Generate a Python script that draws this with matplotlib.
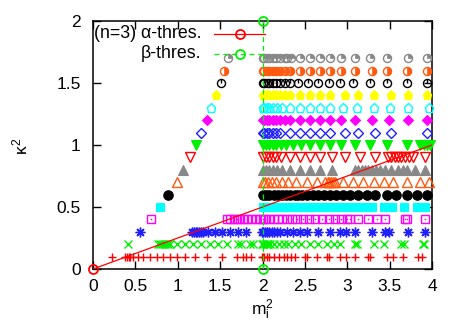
import matplotlib
matplotlib.use('Agg')
import matplotlib.pyplot as plt
from matplotlib.path import Path

plt.rcParams['font.family'] = ['Liberation Sans', 'DejaVu Sans']
plt.rcParams['mathtext.fontset'] = 'custom'
plt.rcParams['mathtext.rm'] = 'Liberation Sans'
plt.rcParams['mathtext.it'] = 'Liberation Sans'
plt.rcParams['font.size'] = 12

# ---------------- data ----------------
kappa_levels = [0.1, 0.2, 0.3, 0.4, 0.5, 0.6, 0.7, 0.8, 0.9, 1.0,
                1.1, 1.2, 1.3, 1.4, 1.5, 1.6, 1.7]

m2_k01 = [0.22, 0.38, 0.40, 0.42, 0.44, 0.47, 0.53, 0.59, 0.67, 0.75, 0.83, 0.91, 0.99,
          1.09, 1.20, 1.34, 1.52, 1.70, 1.77, 1.81, 1.87, 1.99, 2.0, 2.02, 2.05, 2.08,
          2.13, 2.19, 2.25, 2.29, 2.34, 2.38, 2.50, 2.52, 2.64, 2.76, 2.78, 2.91, 2.99,
          3.09, 3.25, 3.27, 3.47, 3.54, 3.66, 3.84, 3.88]
m2_k02 = [0.41, 0.77, 0.79, 0.81, 0.84, 0.86, 0.88, 0.91, 0.99, 1.09, 1.18, 1.28, 1.38,
          1.48, 1.58, 1.71, 1.75, 1.85, 1.89, 1.99, 2.01, 2.03, 2.05, 2.07, 2.09, 2.13,
          2.19, 2.25, 2.30, 2.38, 2.46, 2.56, 2.66, 2.76, 2.84, 2.91, 3.09, 3.12, 3.31,
          3.43, 3.64, 3.67, 3.89, 3.91]
m2_k03 = [0.56, 1.17, 1.19, 1.21, 1.23, 1.25, 1.27, 1.30, 1.36, 1.44, 1.52, 1.62, 1.71,
          1.81, 1.99, 2.01, 2.03, 2.05, 2.08, 2.11, 2.14, 2.17, 2.21, 2.29, 2.36, 2.44,
          2.52, 2.66, 2.80, 2.91, 2.99, 3.09, 3.29, 3.45, 3.49, 3.72, 3.92]
m2_k04 = [0.68, 1.58, 1.62, 1.66, 1.70, 1.74, 1.78, 1.82, 1.86, 1.92, 1.97, 2.0, 2.03,
          2.08, 2.13, 2.18, 2.23, 2.29, 2.35, 2.41, 2.48, 2.55, 2.62, 2.70, 2.78, 2.85,
          2.93, 3.0, 3.03, 3.13, 3.25, 3.35, 3.45, 3.68, 3.71, 3.92]
m2_k05 = [0.79, 2.0, 2.03, 2.06, 2.09, 2.12, 2.16, 2.20, 2.24, 2.28, 2.32, 2.37, 2.42,
          2.47, 2.52, 2.57, 2.62, 2.68, 2.74, 2.80, 2.86, 2.92, 2.98, 3.04, 3.10, 3.17,
          3.23, 3.29, 3.43, 3.53, 3.67, 3.82, 3.92]
m2_k06 = [0.89, 2.0, 2.04, 2.08, 2.13, 2.18, 2.23, 2.28, 2.33, 2.38, 2.42, 2.47, 2.53,
          2.59, 2.66, 2.73, 2.80, 2.87, 2.95, 3.03, 3.13, 3.23, 3.33, 3.47, 3.58, 3.70,
          3.82, 3.94]
m2_k07 = [0.99, 2.0, 2.03, 2.07, 2.11, 2.16, 2.23, 2.30, 2.40, 2.52, 2.64, 2.74, 2.77,
          2.79, 2.81, 2.83, 2.86, 2.95, 3.07, 3.19, 3.31, 3.43, 3.54, 3.70, 3.86, 3.96]
m2_k08 = [1.06, 2.0, 2.04, 2.08, 2.12, 2.17, 2.23, 2.33, 2.44, 2.56, 2.68, 2.82, 3.09,
          3.13, 3.17, 3.21, 3.25, 3.29, 3.34, 3.39, 3.45, 3.52, 3.60, 3.66, 3.71, 3.80,
          3.92]
m2_k09 = [1.14, 2.0, 2.04, 2.08, 2.12, 2.16, 2.22, 2.32, 2.44, 2.56, 2.68, 2.82, 2.97,
          3.15, 3.33, 3.48, 3.52, 3.56, 3.60, 3.64, 3.68, 3.73, 3.78, 3.92]
m2_k10 = [1.21, 2.0, 2.04, 2.08, 2.12, 2.16, 2.22, 2.28, 2.36, 2.46, 2.56, 2.68, 2.80,
          2.93, 3.09, 3.27, 3.47, 3.71, 3.86, 3.90, 3.94, 3.98]
m2_k11 = [1.28, 2.0, 2.02, 2.05, 2.08, 2.12, 2.16, 2.21, 2.32, 2.44, 2.56, 2.68, 2.80,
          2.97, 3.13, 3.33, 3.52, 3.94]
m2_k12 = [1.34, 2.0, 2.02, 2.05, 2.08, 2.12, 2.16, 2.21, 2.26, 2.32, 2.44, 2.56, 2.68,
          2.80, 2.93, 3.09, 3.29, 3.49, 3.72, 3.94]
m2_k13 = [1.39, 2.0, 2.02, 2.05, 2.08, 2.12, 2.17, 2.23, 2.32, 2.44, 2.56, 2.68, 2.80,
          2.95, 3.11, 3.31, 3.50, 3.72, 3.96]
m2_k14 = [1.45, 2.0, 2.02, 2.05, 2.08, 2.12, 2.16, 2.21, 2.26, 2.32, 2.44, 2.56, 2.68,
          2.80, 2.97, 3.13, 3.31, 3.52, 3.72, 3.94]
m2_k15 = [1.51, 2.0, 2.02, 2.05, 2.08, 2.12, 2.16, 2.21, 2.26, 2.32, 2.42, 2.54, 2.66,
          2.78, 2.91, 3.07, 3.27, 3.47, 3.70, 3.94]
m2_k16 = [1.54, 2.0, 2.02, 2.05, 2.08, 2.12, 2.16, 2.21, 2.26, 2.32, 2.44, 2.56, 2.68,
          2.80, 2.93, 3.09, 3.29, 3.47, 3.70, 3.94]
m2_k17 = [1.59, 2.0, 2.02, 2.05, 2.08, 2.12, 2.16, 2.21, 2.26, 2.29, 2.34, 2.44, 2.56,
          2.68, 2.80, 2.93, 3.09, 3.27, 3.47, 3.72, 3.94]

rows_m2 = [m2_k01, m2_k02, m2_k03, m2_k04, m2_k05, m2_k06, m2_k07, m2_k08, m2_k09,
           m2_k10, m2_k11, m2_k12, m2_k13, m2_k14, m2_k15, m2_k16, m2_k17]

alpha_m2 = [0.0, 8.0]
alpha_k2 = [0.0, 2.0]
beta_m2 = [2.0, 2.0]
beta_k2 = [0.0, 2.0]

x_ticks = [0, 0.5, 1, 1.5, 2, 2.5, 3, 3.5, 4]
x_tick_labels = ['0', '0.5', '1', '1.5', '2', '2.5', '3', '3.5', '4']
y_ticks = [0, 0.5, 1, 1.5, 2]
y_tick_labels = ['0', '0.5', '1', '1.5', '2']

# ---------------- styles ----------------
RED = '#ff0000'
GREEN = '#00f000'
BLUE = '#2020ff'
MAG = '#ff00ff'
CYAN = '#00ffff'
YEL = '#ffff00'
BLK = '#000000'
ORA = '#ff5a10'
GRY = '#888888'

asterisk = (8, 2, 0)
vline = Path([(0, 0), (0, 1)], [Path.MOVETO, Path.LINETO])
quad_ur = Path.wedge(0, 90)
half_r = Path.wedge(-90, 90)

styles = [
    dict(marker='+', color=RED, ms=6, filled=False),
    dict(marker='x', color=GREEN, ms=5.2, filled=False),
    dict(marker=asterisk, color=BLUE, ms=7, filled=False),
    dict(marker='s', color=MAG, ms=6.2, filled=False, dot=True),
    dict(marker='s', color=CYAN, ms=6.3, filled=True),
    dict(marker='o', color=BLK, ms=6.8, filled=True),
    dict(marker='^', color=ORA, ms=6.5, filled=False),
    dict(marker='^', color=GRY, ms=6.5, filled=True),
    dict(marker='v', color=RED, ms=6.5, filled=False),
    dict(marker='v', color=GREEN, ms=6.5, filled=True),
    dict(marker='D', color=BLUE, ms=5.0, filled=False),
    dict(marker='D', color=MAG, ms=5.0, filled=True),
    dict(marker='p', color=CYAN, ms=6.5, filled=False),
    dict(marker='p', color=YEL, ms=6.5, filled=True),
    dict(marker='o', color=BLK, ms=5.8, filled=False, extra=vline, extra_fill=False),
    dict(marker='o', color=ORA, ms=5.8, filled=False, extra=half_r, extra_fill=True),
    dict(marker='o', color=GRY, ms=5.8, filled=False, extra=quad_ur, extra_fill=True),
]

fig = plt.figure(figsize=(4.63, 3.24), dpi=100)
ax = fig.add_axes([93 / 463, 1 - 269 / 324, 339 / 463, 248 / 324])
ax.set_xlim(0, 4)
ax.set_ylim(0, 2)

# alpha / beta thresholds
ax.plot(alpha_m2, alpha_k2, color=RED, lw=0.9, zorder=5)
ax.plot(alpha_m2[:1], alpha_k2[:1], ls='none', marker='o', ms=6.5, mfc='none',
        mec=RED, mew=1.3, clip_on=False, zorder=6)
ax.plot(beta_m2, beta_k2, color=GREEN, lw=0.9, ls=(0, (4, 3)), zorder=5)
ax.plot(beta_m2, beta_k2, ls='none', marker='o', ms=6.5, mfc='none',
        mec=GREEN, mew=1.3, clip_on=False, zorder=6)

for k2, xs, st in zip(kappa_levels, rows_m2, styles):
    ys = [k2] * len(xs)
    if st['filled']:
        ax.plot(xs, ys, ls='none', marker=st['marker'], ms=st['ms'], mfc=st['color'],
                mec=st['color'], mew=0.8, clip_on=False, zorder=3)
    else:
        ax.plot(xs, ys, ls='none', marker=st['marker'], ms=st['ms'], mfc='none',
                mec=st['color'], mew=1.0, clip_on=False, zorder=3)
    if st.get('dot'):
        ax.plot(xs, ys, ls='none', marker='o', ms=1.2, mfc=st['color'], mec='none',
                clip_on=False, zorder=3)
    if 'extra' in st:
        if st['extra_fill']:
            ax.plot(xs, ys, ls='none', marker=st['extra'], ms=st['ms'], mfc=st['color'],
                    mec=st['color'], mew=0.5, clip_on=False, zorder=3)
        else:
            ax.plot(xs, ys, ls='none', marker=st['extra'], ms=st['ms'], mfc='none',
                    mec=st['color'], mew=1.0, clip_on=False, zorder=3)

ax.set_xticks(x_ticks)
ax.set_xticklabels(x_tick_labels)
ax.set_yticks(y_ticks)
ax.set_yticklabels(y_tick_labels)
ax.tick_params(direction='in', length=6, width=1, top=True, right=True,
               labelsize=12.5, colors='black')
ax.tick_params(axis='x', pad=7)
ax.tick_params(axis='y', pad=9)
for s in ax.spines.values():
    s.set_linewidth(1.1)

# legend (gnuplot-style, right-justified text)
ax.text(0.319, 0.948, '(n=3) α-thres.', transform=ax.transAxes, ha='right',
        va='center', fontsize=12.8)
ax.text(0.319, 0.867, 'β-thres.', transform=ax.transAxes, ha='right',
        va='center', fontsize=12.8)
ax.plot([0.357, 0.507], [0.948, 0.948], transform=ax.transAxes, color=RED, lw=0.9,
        clip_on=False, zorder=6)
ax.plot([0.434], [0.948], transform=ax.transAxes, ls='none', marker='o', ms=6.5,
        mfc='none', mec=RED, mew=1.3, clip_on=False, zorder=6)
ax.plot([0.357, 0.500], [0.867, 0.867], transform=ax.transAxes, color=GREEN, lw=0.9,
        ls=(0, (4, 3)), clip_on=False, zorder=6)
ax.plot([0.434], [0.867], transform=ax.transAxes, ls='none', marker='o', ms=6.5,
        mfc='none', mec=GREEN, mew=1.3, clip_on=False, zorder=6)

fig.text(262 / 463, 1 - 310 / 324, r'$\mathrm{m}_\mathrm{i}^\mathrm{2}$',
         ha='center', va='center', fontsize=12.5)
fig.text(20 / 463, 1 - 146 / 324, r'$\kappa^\mathrm{2}$', ha='center', va='center',
         rotation=90, fontsize=12.5)

fig.savefig('out.png', dpi=100)
